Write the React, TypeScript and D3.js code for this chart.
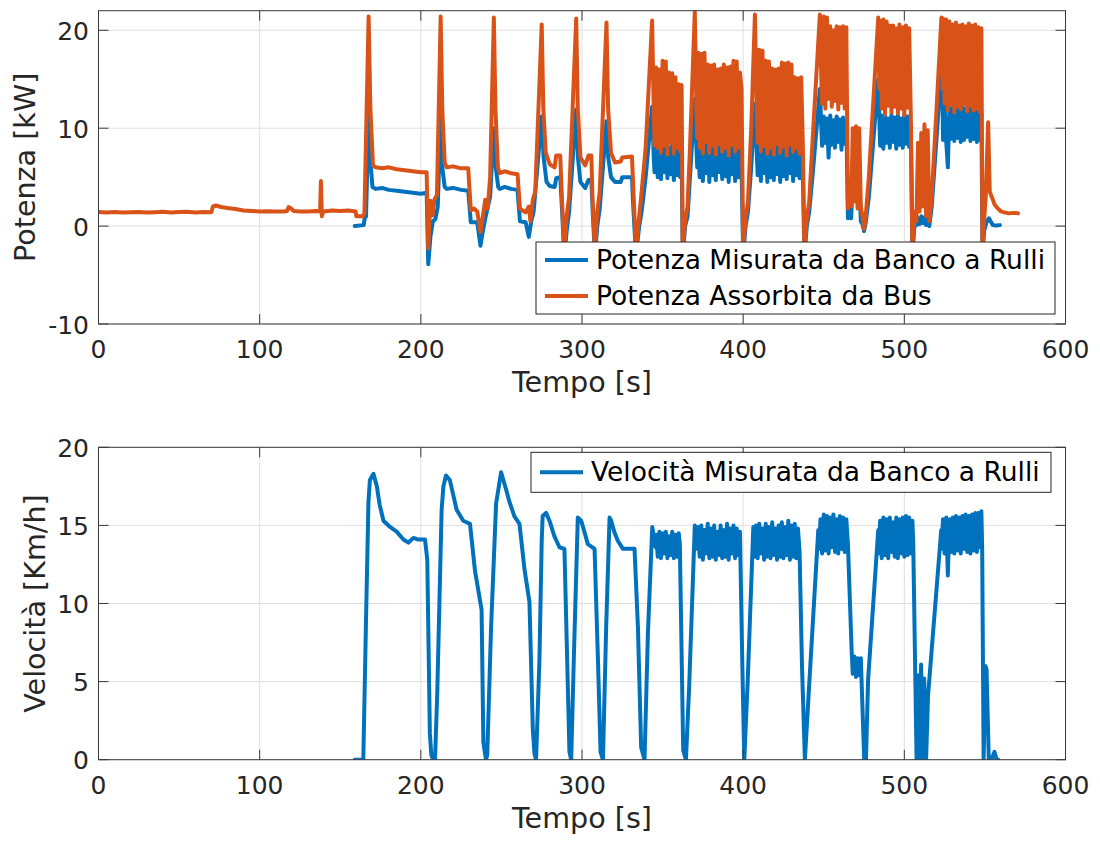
import React from "react";
import * as d3 from "d3";

// ---------- data ----------
const xTicks = [0, 100, 200, 300, 400, 500, 600];
const powerTicks = [-10, 0, 10, 20];
const speedTicks = [0, 5, 10, 15, 20];

const legendPower = ["Potenza Misurata da Banco a Rulli", "Potenza Assorbita da Bus"];
const legendSpeed = ["Velocità Misurata da Banco a Rulli"];

// [time s, power kW] - power absorbed by the bus
const busPower: [number, number][] = [
  [0, 1.45], [5, 1.4], [10, 1.45], [15, 1.38], [20, 1.42], [25, 1.45], [30, 1.38], [35, 1.42],
  [40, 1.47], [45, 1.4], [50, 1.44], [55, 1.46], [60, 1.4], [65, 1.45], [70, 1.42], [71, 2.0],
  [73, 2.1], [76, 1.95], [80, 1.85], [85, 1.75], [90, 1.6], [95, 1.55], [100, 1.5], [105, 1.52],
  [110, 1.48], [115, 1.5], [117, 1.55], [118, 1.95], [119.5, 1.8], [121, 1.55], [125, 1.5],
  [130, 1.5], [135, 1.55], [137.5, 1.5], [138, 4.6], [138.6, 1.0], [139.5, 1.5], [145, 1.6],
  [150, 1.55], [155, 1.6], [159.5, 1.5], [160, 1.0], [164, 1.0], [165, 1.3],
  [167.6, 21.4], [168.7, 12], [170.3, 6.2], [172, 6.0], [176, 5.9], [180, 6.0], [185, 5.8],
  [190, 5.7], [195, 5.6], [200, 5.5], [203.6, 5.5],
  [204.6, -2.3], [205.9, 2.6], [207.3, 1.1], [208.4, 2.7], [210, 3.2],
  [212.3, 21.4], [213.3, 12], [214.8, 6.5], [216, 6.0], [220, 6.1], [225, 5.9], [229.4, 5.9],
  [231, 1.6], [233, 1.8], [235, 1.5], [237, -0.6], [238.5, 1.0], [240, 2.7], [241.5, 1.8], [243, 5],
  [245.3, 21.3], [246.3, 12], [247.8, 6.0], [249, 5.4], [252, 5.6], [256, 5.4], [260, 5.3],
  [261.5, 1.8], [263, 1.6], [265, 1.4], [267, 2.0], [268, 0.5], [269.5, 2.7], [271, 3.5],
  [275, 20.6], [276, 12], [277.5, 7.5], [280, 6.3], [283, 6.0], [284, 7.2], [286.5, 7.2],
  [287.5, 3], [289, -2.5], [290.5, 1.0], [292, 3.0],
  [296.4, 21.2], [297.4, 12], [299, 7.0], [302, 6.2], [304, 7.2], [305.8, 7.2], [306.5, 3],
  [308, -2.5], [309.5, 1.5], [311, 3.5],
  [315.2, 20.8], [316.2, 12], [318, 7.5], [320.5, 6.5], [324, 6.6], [325, 7.0], [331, 7.1],
  [331.8, 4], [333.5, -2.5], [335.5, 1.0], [337, 3.5], [339.5, 8],
  [343.5, 21.0], [344.5, 12], [345, 8.2],
  [346, 16.2], [347, 8.0], [348, 16.0], [349, 7.5], [350, 16.9], [351, 8.2], [352, 16.8],
  [353, 7.3], [354, 15.7], [355, 8.5], [356, 15.6], [357, 7.4], [358, 15.2], [359, 8.0],
  [360, 14.5], [361, 7.6], [361.8, 14.4],
  [362.5, -2.5], [364, 0.5], [365.5, 2.0], [367, 8], [370, 21.9], [371, 12], [371.5, 9],
  [372, 17.7], [373, 8.0], [374, 17.6], [375, 7.4], [376, 17.7], [377, 8.6], [378, 16.5],
  [379, 7.5], [380, 16.4], [381, 8.2], [382, 16.5], [383, 7.3], [384, 16.0], [385, 8.4],
  [386, 16.1], [387, 7.6], [388, 16.5], [389, 8.0], [390, 16.2], [391, 7.2], [392, 16.3],
  [393, 8.3], [394, 16.9], [395, 7.6], [396, 16.8], [397, 8.0], [398, 15.7], [399, 14],
  [400, -2.5], [401.5, 0.8], [403, 2.5], [405, 10], [407.3, 21.6], [408.3, 13],
  [409, 8.5], [410, 18.0], [411, 7.6], [412, 17.9], [413, 8.2], [414, 16.9], [415, 7.4],
  [416, 16.8], [417, 8.0], [418, 16.1], [419, 7.3], [420, 16.0], [421, 8.4], [422, 16.1],
  [423, 7.5], [424, 16.7], [425, 8.1], [426, 16.6], [427, 7.2], [428, 16.7], [429, 8.3],
  [430, 16.5], [431, 7.6], [432, 15.2], [433, 8.0], [434, 15.1], [435, 7.4], [436, 15.2], [437, 8.5],
  [438, -2.5], [439.5, 0.8], [441, 2.5], [443.5, 10], [447.6, 21.6], [448.5, 15],
  [449, 12.5], [450, 21.4], [451, 12.0], [452, 21.3], [453, 13.0], [454, 20.4], [455, 12.2],
  [456, 20.0], [457, 12.8], [458, 20.4], [459, 11.9], [460, 20.3], [461, 12.6], [462, 20.4],
  [463, 12.0], [464, 20.3],
  [465, 1.8], [466, 3.0], [467, 2.0], [468, 10.0], [469, 2.5], [470, 10.2], [471, 1.8],
  [472, 10.0], [473, 2.0], [474, 1.0], [475, -0.3], [476, 1.0], [478, 5],
  [483.8, 21.3], [484.5, 14],
  [485, 21.0], [486, 12.0], [487, 21.1], [488, 11.4], [489, 20.9], [490, 12.3], [491, 20.5],
  [492, 11.6], [493, 20.5], [494, 12.2], [495, 20.2], [496, 11.5], [497, 20.6], [498, 12.0],
  [499, 20.3], [500, 11.3], [501, 20.5], [502, 12.1], [503, 20.2], [504, 11.5],
  [505, -2.5], [506.5, 1.5], [507.5, 0.5], [508.5, 8.5], [509.5, 1.5], [510.5, 9.5], [511.5, 2.0],
  [512.5, 10.4], [513.5, 1.0], [514.5, 9.8], [515.5, 0.5], [517, 3], [520, 12],
  [523, 21.3], [523.8, 14],
  [524, 21.2], [525, 12.5], [526, 21.1], [527, 11.8], [528, 20.9], [529, 12.4], [530, 20.6],
  [531, 11.6], [532, 20.8], [533, 12.2], [534, 20.5], [535, 11.9], [536, 20.6], [537, 12.5],
  [538, 20.4], [539, 11.7], [540, 20.7], [541, 12.3], [542, 20.5], [543, 11.8], [544, 20.6],
  [545, 12.0], [546, 20.3], [547, 11.6], [547.8, 20.2],
  [548.5, -2.5], [549.5, 0.5], [550.5, 3], [552, 10.6], [553, 3.5], [554.7, 2.8], [556, 2.2],
  [558, 1.8], [560, 1.5], [562, 1.4], [565, 1.3], [568, 1.35], [570.6, 1.3],
];

// [time s, power kW] - power measured by the roller bench
const rollerPower: [number, number][] = [
  [159, 0.0], [164.5, 0.1], [165.2, 0.8], [166, 1.0], [167.6, 11.5], [168.5, 7], [170, 4.0],
  [172, 3.8], [176, 3.9], [180, 3.7], [185, 3.6], [190, 3.5], [195, 3.4], [200, 3.3], [203.6, 3.4],
  [204.6, -3.9], [206, -1.0], [207.5, 0.5], [209, 0.7], [210.5, 2],
  [212.3, 11], [213.3, 6], [214.8, 4.0], [216, 3.8], [220, 3.9], [225, 3.7], [229.4, 3.6],
  [231, 0.4], [235, 0.4], [237, -2.0], [238.5, -0.5], [240, 0.8], [243, 3],
  [245.3, 10], [246.5, 6], [248, 4.0], [249, 3.8], [252, 4.0], [256, 3.8], [260, 3.7],
  [261.5, 0.5], [265, 0.4], [267, -1.1], [268.5, 0.5], [270, 1.5],
  [275, 11.2], [276.2, 7], [278, 4.5], [280, 4.1], [283, 4.0], [284, 4.9], [286.5, 5.0],
  [287.5, 2], [289, -3], [290.5, -0.5], [292, 1.5],
  [296.4, 11.9], [297.5, 7], [299, 4.5], [302, 3.9], [304, 4.7], [305.8, 4.7], [306.5, 2],
  [308, -3], [309.5, 0], [311, 1.8],
  [315.2, 10.7], [316.3, 7], [318, 5.0], [320.5, 4.5], [324, 4.5], [325, 5.0], [331, 5.0],
  [331.8, 2], [333.5, -3], [335.5, 0], [337, 1.5], [339.5, 5],
  [343.5, 12.2], [344.5, 7], [345, 5.5],
  [346, 8.0], [347, 5.0], [348, 8.5], [349, 4.8], [350, 8.3], [351, 5.5], [352, 8.6], [353, 4.9],
  [354, 8.0], [355, 5.3], [356, 8.4], [357, 4.7], [358, 8.1], [359, 5.2], [360, 8.6], [361, 5.0],
  [361.8, 7.5],
  [362.5, -3], [364, 0], [365.5, 1], [367, 5], [370, 13], [371, 8], [371.5, 6],
  [372, 9.0], [373, 5.0], [374, 9.2], [375, 4.6], [376, 8.8], [377, 5.4], [378, 9.1], [379, 4.5],
  [380, 8.7], [381, 5.2], [382, 9.0], [383, 4.7], [384, 8.5], [385, 5.5], [386, 9.2], [387, 4.8],
  [388, 8.9], [389, 5.1], [390, 9.1], [391, 4.5], [392, 8.6], [393, 5.3], [394, 9.0], [395, 4.6],
  [396, 8.8], [397, 5.0], [398, 8.2], [399, 6],
  [400, -3], [401.5, 0], [403, 1.5], [405, 6], [407.3, 12.5], [408.3, 8],
  [409, 5.2], [410, 9.5], [411, 4.6], [412, 9.3], [413, 5.4], [414, 9.0], [415, 4.5], [416, 9.4],
  [417, 5.0], [418, 8.8], [419, 4.7], [420, 9.2], [421, 5.3], [422, 8.9], [423, 4.5], [424, 9.5],
  [425, 5.1], [426, 9.0], [427, 4.8], [428, 9.3], [429, 5.4], [430, 8.7], [431, 4.6], [432, 8.5],
  [433, 5.2], [434, 8.8], [435, 4.9], [436, 8.4], [437, 5.5],
  [438, -3], [439.5, 0], [441, 1.5], [443.5, 6], [447.6, 14], [448.5, 10],
  [449, 8.2], [450, 11.2], [451, 8.5], [452, 11.0], [453, 7.0], [454, 11.3], [455, 8.3],
  [456, 10.8], [457, 8.0], [458, 11.2], [459, 8.6], [460, 10.9], [461, 7.8], [462, 11.1],
  [463, 8.4], [464, 10.8],
  [465, 0.8], [466, 1.5], [467, 0.8], [468, 4.8], [469, 3.0], [470, 4.5], [471, 3.2], [472, 4.8],
  [473, 0.5], [474, 0.2], [475, -0.5], [476, 0.3], [478, 3], [483.8, 15], [484.5, 11],
  [485, 8.2], [486, 11.3], [487, 7.9], [488, 11.4], [489, 8.5], [490, 11.0], [491, 8.0],
  [492, 11.4], [493, 8.6], [494, 11.1], [495, 7.9], [496, 11.3], [497, 8.3], [498, 11.0],
  [499, 8.0], [500, 11.4], [501, 8.4], [502, 11.2], [503, 8.1], [504, 10.5],
  [505, -3], [506.5, 0.5], [507.5, 0.1], [508.5, 0.8], [509.5, 0.2], [510.5, 1.0], [511.5, 0.3],
  [512.5, 0.9], [513.5, 0.1], [514.5, 0.8], [515.5, 0], [517, 2], [520, 9], [523, 16], [523.8, 12],
  [524, 8.8], [525, 12.3], [526, 8.6], [527, 6.0], [528, 12.2], [529, 8.9], [530, 12.0],
  [531, 8.7], [532, 12.3], [533, 9.0], [534, 11.9], [535, 8.6], [536, 12.2], [537, 8.8],
  [538, 12.0], [539, 9.1], [540, 12.3], [541, 8.7], [542, 12.1], [543, 8.9], [544, 12.2],
  [545, 8.6], [546, 11.9], [547, 8.8], [547.8, 11.5],
  [548.5, -3], [549.5, -0.5], [551, 0.4], [552.5, 0.8], [553.5, 0.5], [555, 0.1], [557, 0.05],
  [559.3, 0.1],
];

// [time s, speed km/h] - speed measured by the roller bench
const rollerSpeed: [number, number][] = [
  [159, 0], [164.3, 0], [166, 9], [167.5, 16.5], [168.4, 17.9], [170.6, 18.3], [172.7, 17.5],
  [174.5, 16.3], [176.8, 15.3], [180.9, 14.9], [185, 14.6], [189.2, 14.1], [192.3, 13.9],
  [195.4, 14.2], [198, 14.1], [202.6, 14.1], [204, 12.8], [205.6, 1.7], [206.5, 0.3],
  [207.7, 0], [208.8, 0], [210.2, 4.3], [212.9, 16.0], [214, 17.5], [215.6, 18.2], [218, 17.9],
  [220, 17], [222.2, 16], [226.3, 15.3], [230.5, 15.1], [233.6, 12.1], [237.7, 9.6],
  [238.8, 1.1], [240.4, 0], [241.2, 0.3], [243.6, 8.5], [246.7, 16.4], [249.8, 18.4],
  [252.9, 17.3], [255, 16.5], [258, 15.6], [261.2, 15.1], [264.3, 12.2], [267.4, 10.1],
  [269.5, 1.9], [270.5, 0.4], [271.5, 0], [273.6, 6.4], [275, 14], [275.6, 15.6], [277.7, 15.8],
  [279.8, 15.3], [282.9, 14.3], [286, 13.6], [289.1, 13.5], [290.8, 6.4], [292.2, 0.5],
  [293.3, 0], [294.9, 6.4], [297.4, 15.5], [299.5, 15.3], [301.5, 14.6], [303.6, 13.8],
  [307.8, 13.5], [309.9, 6.4], [311.5, 0.5], [313, 0], [315, 8.5], [317.1, 15.5], [318.1, 15.3],
  [320, 14.6], [322.3, 14.0], [325.4, 13.5], [332.6, 13.5], [334.7, 8.5], [336.7, 0.8],
  [338.8, 0], [340.9, 8.1], [343.6, 14.9], [345.7, 13.6],
  [346, 14.4], [347, 13.0], [348, 14.6], [349, 12.9], [350, 14.5], [351, 13.2], [352, 14.6],
  [353, 12.9], [354, 14.3], [355, 13.1], [356, 14.6], [357, 12.9], [358, 14.4], [359, 13.0],
  [360, 14.5], [360.7, 13.8],
  [362.8, 0.6], [364.5, 0], [366.5, 4.7], [370, 15.0], [371, 13.5],
  [372, 14.9], [373, 13.0], [374, 15.0], [375, 12.8], [376, 14.7], [377, 13.2], [378, 15.1],
  [379, 12.9], [380, 14.8], [381, 13.0], [382, 15.0], [383, 12.8], [384, 14.6], [385, 13.1],
  [386, 15.0], [387, 12.9], [388, 14.7], [389, 13.0], [390, 15.1], [391, 12.8], [392, 14.8],
  [393, 13.2], [394, 15.0], [395, 12.9], [396, 14.8], [397, 13.1], [398, 14.6],
  [399.5, 6], [400.7, 0], [402.8, 5], [406.3, 14.9],
  [407, 13.0], [408, 15.0], [409, 12.9], [410, 15.1], [411, 13.2], [412, 14.8], [413, 12.8],
  [414, 15.1], [415, 13.0], [416, 14.9], [417, 12.9], [418, 15.2], [419, 13.1], [420, 14.8],
  [421, 12.8], [422, 15.0], [423, 13.0], [424, 15.2], [425, 12.9], [426, 14.9], [427, 13.1],
  [428, 15.3], [429, 12.8], [430, 15.0], [431, 13.0], [432, 15.1], [433, 12.9], [434, 14.8],
  [435, 13.3],
  [436.5, 6], [438.3, 0], [440.4, 3.8], [446.6, 14.7],
  [447, 13.5], [448, 15.4], [449, 13.2], [450, 15.7], [451, 13.4], [452, 15.6], [453, 13.2],
  [454, 15.5], [455, 13.6], [456, 15.7], [457, 13.3], [458, 15.4], [459, 13.2], [460, 15.6],
  [461, 13.5], [462, 15.5], [463, 13.3], [464, 15.4], [465, 13.8],
  [467.3, 7.0], [468, 5.5], [469, 6.6], [470, 5.3], [471, 6.5], [472, 5.4], [473, 6.5],
  [475.1, 0], [476.2, 0], [477.5, 5.1], [483.8, 14.7],
  [484, 13.2], [485, 15.3], [486, 12.9], [487, 15.5], [488, 13.1], [489, 15.4], [490, 12.9],
  [491, 15.5], [492, 13.3], [493, 15.2], [494, 13.0], [495, 15.5], [496, 12.9], [497, 15.4],
  [498, 13.2], [499, 15.5], [500, 13.0], [501, 15.6], [502, 13.1], [503, 15.5], [504, 13.2],
  [505, 15.3], [505.5, 14],
  [507.6, 0], [508.8, 5.4], [509.6, 0], [510.4, 6.1], [511.5, 0], [512.3, 5.2], [513.5, 0],
  [514.7, 4.1], [522.9, 14.7],
  [523, 13.5], [524, 15.4], [525, 13.2], [526, 15.5], [527, 11.8], [528, 15.4], [529, 13.3],
  [530, 15.5], [531, 13.2], [532, 15.6], [533, 13.4], [534, 15.5], [535, 13.2], [536, 15.6],
  [537, 13.5], [538, 15.7], [539, 13.3], [540, 15.6], [541, 13.2], [542, 15.7], [543, 13.4],
  [544, 15.8], [545, 13.3], [546, 15.8], [547, 13.6], [547.8, 15.9], [548.3, 13.5],
  [549.2, 0], [550.3, 6.0], [551, 5.8], [552.4, 0], [554, 0], [555.9, 0.5], [557.3, 0], [558.3, 0],
];

// ---------- style ----------
const BLUE = "#0072BD";
const ORANGE = "#D95319";
const TEXT = "#262626";
const FONT = "DejaVu Sans, sans-serif";

type Series = { data: [number, number][]; color: string };

interface PanelProps {
  id: string;
  top: number;
  bottom: number;
  yDomain: [number, number];
  yTicks: number[];
  series: Series[];
  yLabel: string;
  yLabelX: number;
  legend: { labels: string[]; colors: string[]; x0: number; x1: number; y0: number; y1: number };
}

const LEFT = 98.5;
const RIGHT = 1065.5;
const TICK_FS = 25;
const LABEL_FS = 28.6;
const LEG_FS = 26.5;
const LW = 4;

function Panel(p: PanelProps) {
  const x = d3.scaleLinear().domain([0, 600]).range([LEFT, RIGHT]);
  const y = d3.scaleLinear().domain(p.yDomain).range([p.bottom, p.top]);
  const line = d3
    .line<[number, number]>()
    .x((d) => x(d[0]))
    .y((d) => y(d[1]));
  const tl = 10;
  const rowH = (p.legend.y1 - p.legend.y0) / p.legend.labels.length;
  return (
    <g>
      <defs>
        <clipPath id={p.id}>
          <rect x={LEFT} y={p.top} width={RIGHT - LEFT} height={p.bottom - p.top} />
        </clipPath>
      </defs>
      <rect x={LEFT} y={p.top} width={RIGHT - LEFT} height={p.bottom - p.top} fill="#fff" />
      {/* grid */}
      {xTicks.map((t) => (
        <line key={"gx" + t} x1={x(t)} x2={x(t)} y1={p.top} y2={p.bottom} stroke="#dfdfdf" strokeWidth={1} />
      ))}
      {p.yTicks.map((t) => (
        <line key={"gy" + t} x1={LEFT} x2={RIGHT} y1={y(t)} y2={y(t)} stroke="#dfdfdf" strokeWidth={1} />
      ))}
      {/* data */}
      <g clipPath={`url(#${p.id})`}>
        {p.series.map((s, i) => (
          <path
            key={i}
            d={line(s.data) || ""}
            fill="none"
            stroke={s.color}
            strokeWidth={LW}
            strokeLinejoin="round"
            strokeLinecap="round"
          />
        ))}
      </g>
      {/* box + ticks */}
      <rect x={LEFT} y={p.top} width={RIGHT - LEFT} height={p.bottom - p.top} fill="none" stroke="#3a3a3a" strokeWidth={1} />
      {xTicks.map((t) => (
        <g key={"tx" + t}>
          <line x1={x(t)} x2={x(t)} y1={p.bottom} y2={p.bottom - tl} stroke="#3a3a3a" />
          <line x1={x(t)} x2={x(t)} y1={p.top} y2={p.top + tl} stroke="#3a3a3a" />
          <text x={x(t)} y={p.bottom + 34} textAnchor="middle" fontSize={TICK_FS} fill={TEXT} fontFamily={FONT}>
            {t}
          </text>
        </g>
      ))}
      {p.yTicks.map((t) => (
        <g key={"ty" + t}>
          <line x1={LEFT} x2={LEFT + tl} y1={y(t)} y2={y(t)} stroke="#3a3a3a" />
          <line x1={RIGHT} x2={RIGHT - tl} y1={y(t)} y2={y(t)} stroke="#3a3a3a" />
          <text x={89} y={y(t) + 9.5} textAnchor="end" fontSize={TICK_FS} fill={TEXT} fontFamily={FONT}>
            {t}
          </text>
        </g>
      ))}
      {/* axis labels */}
      <text x={(LEFT + RIGHT) / 2} y={p.bottom + 68} textAnchor="middle" fontSize={LABEL_FS} fill={TEXT} fontFamily={FONT}>
        Tempo [s]
      </text>
      <text
        transform={`translate(${p.yLabelX},${(p.top + p.bottom) / 2}) rotate(-90)`}
        textAnchor="middle"
        fontSize={LABEL_FS}
        fill={TEXT}
        fontFamily={FONT}
      >
        {p.yLabel}
      </text>
      {/* legend */}
      <rect
        x={p.legend.x0}
        y={p.legend.y0}
        width={p.legend.x1 - p.legend.x0}
        height={p.legend.y1 - p.legend.y0}
        fill="#fff"
        stroke="#262626"
        strokeWidth={1}
      />
      {p.legend.labels.map((lab, i) => {
        const cy = p.legend.y0 + rowH * (i + 0.5);
        return (
          <g key={lab}>
            <line x1={p.legend.x0 + 9} x2={p.legend.x0 + 52} y1={cy} y2={cy} stroke={p.legend.colors[i]} strokeWidth={LW} />
            <text x={p.legend.x0 + 60} y={cy + 9} fontSize={LEG_FS} fill="#000" fontFamily={FONT}>
              {lab}
            </text>
          </g>
        );
      })}
    </g>
  );
}

export default function App() {
  return (
    <svg
      width={1100}
      height={841}
      viewBox="0 0 1100 841"
      style={{ position: "absolute", left: 0, top: 0, background: "#fff" }}
    >
      <rect width={1100} height={841} fill="#fff" />
      <Panel
        id="clipTop"
        top={10.7}
        bottom={324}
        yDomain={[-10, 22]}
        yTicks={powerTicks}
        series={[
          { data: rollerPower, color: BLUE },
          { data: busPower, color: ORANGE },
        ]}
        yLabel="Potenza [kW]"
        yLabelX={35}
        legend={{ labels: legendPower, colors: [BLUE, ORANGE], x0: 536, x1: 1055, y0: 242, y1: 314 }}
      />
      <Panel
        id="clipBottom"
        top={447.3}
        bottom={759.7}
        yDomain={[0, 20]}
        yTicks={speedTicks}
        series={[{ data: rollerSpeed, color: BLUE }]}
        yLabel="Velocità [Km/h]"
        yLabelX={45}
        legend={{ labels: legendSpeed, colors: [BLUE], x0: 531, x1: 1051, y0: 452.3, y1: 492.3 }}
      />
    </svg>
  );
}
